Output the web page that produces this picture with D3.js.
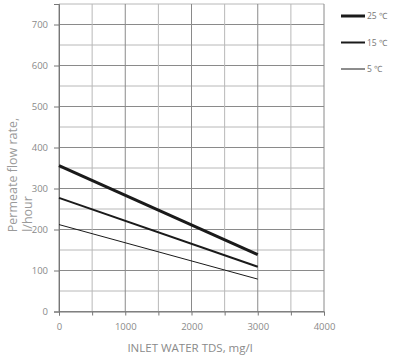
<!DOCTYPE html>
<html><head><meta charset="utf-8">
<script src="https://cdn.jsdelivr.net/npm/d3@7"></script>
<style>body{margin:0;background:#fff;font-family:"Open Sans",sans-serif}</style>
</head><body><svg id="c" width="396" height="356"></svg>
<script>
const series = ["25 ℃","15 ℃","5 ℃"];
const tds = [0, 3000];
const flow25 = [356, 139];
const flow15 = [277, 109];
const flow5 = [212, 79];
const xTicks = [0,1000,2000,3000,4000];
const yTicks = [0,100,200,300,400,500,600,700];
const widths = [3, 2, 1];

const svg = d3.select("#c");
const x = d3.scaleLinear().domain([0,4000]).range([59,324]);
const y = d3.scaleLinear().domain([0,750]).range([311.5,4]);

const g = svg.append("g");
d3.range(0,751,50).forEach(v=>{
  g.append("line").attr("x1",x(0)).attr("x2",x(4000)).attr("y1",y(v)).attr("y2",y(v))
   .attr("stroke", v%100===0 ? "#8a8a8a" : "#b8b8b8").attr("stroke-width",1);
});
d3.range(0,4001,500).forEach(v=>{
  g.append("line").attr("y1",y(0)).attr("y2",y(750)).attr("x1",x(v)).attr("x2",x(v))
   .attr("stroke", v%1000===0 ? "#8a8a8a" : "#b8b8b8").attr("stroke-width",1);
});
const ya = d3.axisLeft(y).tickValues(yTicks).tickSize(5).tickPadding(6);
svg.append("g").attr("transform",`translate(${x(0)},0)`).call(ya)
  .call(s=>s.select(".domain").attr("stroke","#777"))
  .call(s=>s.selectAll(".tick line").attr("stroke","#777"))
  .call(s=>s.selectAll("text").attr("fill","#8a8a8a").attr("font-size",9.5).attr("font-family","Open Sans"));
const xa = d3.axisBottom(x).tickValues(d3.range(0,4001,500)).tickSize(4).tickPadding(8)
  .tickFormat(d=> xTicks.includes(d) ? d : "");
svg.append("g").attr("transform",`translate(0,${y(0)})`).call(xa)
  .call(s=>s.select(".domain").attr("stroke","#777"))
  .call(s=>s.selectAll(".tick line").attr("stroke","#777"))
  .call(s=>s.selectAll("text").attr("fill","#8a8a8a").attr("font-size",9.5).attr("font-family","Open Sans"));

const data = [flow25, flow15, flow5];
const line = d3.line().x((d,i)=>x(tds[i])).y(d=>y(d));
data.forEach((d,i)=>{
  svg.append("path").attr("d", line(d)).attr("fill","none").attr("stroke","#1a1a1a").attr("stroke-width",widths[i]);
});

series.forEach((s,i)=>{
  const ly = 16 + i*26.5;
  svg.append("line").attr("x1",341).attr("x2",365).attr("y1",ly).attr("y2",ly).attr("stroke","#1a1a1a").attr("stroke-width",widths[i]);
  svg.append("text").attr("x",367).attr("y",ly+3).text(s).attr("font-size",8.5).attr("fill","#777").attr("font-family","Open Sans");
});

svg.append("text").attr("transform","translate(17,175) rotate(-90)").attr("text-anchor","middle")
  .attr("font-size",12.5).attr("fill","#9a9a9a").attr("font-family","Open Sans").text("Permeate flow rate,");
svg.append("text").attr("transform","translate(32,214) rotate(-90)").attr("text-anchor","middle")
  .attr("font-size",12.5).attr("fill","#9a9a9a").attr("font-family","Open Sans").text("l/hour");
svg.append("text").attr("x",190).attr("y",352).attr("text-anchor","middle")
  .attr("font-size",11.5).attr("fill","#8a8a8a").attr("font-family","Open Sans").text("INLET WATER TDS, mg/l");
</script></body></html>
